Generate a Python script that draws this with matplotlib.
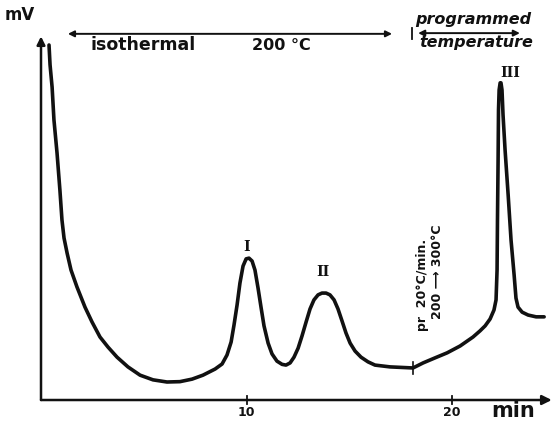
import matplotlib.pyplot as plt
import numpy as np

# chromatogram trace (time in min, signal in arbitrary mV units)
t_min = [0.39, 0.44, 0.54, 0.63, 0.78, 0.92, 1.02, 1.12, 1.27, 1.46, 1.75, 2.14,
         2.48, 2.87, 3.26, 3.70, 4.23, 4.82, 5.45, 6.13, 6.76, 7.35, 7.88, 8.47,
         8.81, 9.05, 9.25, 9.39, 9.54, 9.68, 9.83, 9.98, 10.12, 10.27, 10.41, 10.56,
         10.71, 10.85, 11.05, 11.24, 11.48, 11.73, 11.92, 12.12, 12.31, 12.51, 12.70,
         12.90, 13.09, 13.28, 13.48, 13.67, 13.87, 14.06, 14.26, 14.45, 14.65, 14.84,
         15.04, 15.28, 15.57, 15.91, 16.25, 16.98, 18.10, 18.59, 19.17, 19.76, 20.39,
         21.02, 21.36, 21.61, 21.85, 22.04, 22.14, 22.19, 22.21, 22.24, 22.26, 22.29,
         22.34, 22.38, 22.43, 22.48, 22.58, 22.73, 22.87, 23.02, 23.11, 23.21, 23.41,
         23.70, 24.09, 24.48]
signal = [98.6, 93.1, 86.9, 77.8, 68.6, 58.3, 50.0, 45.0, 40.8, 36.1, 31.4, 25.8,
          21.7, 17.5, 14.7, 11.9, 9.2, 6.9, 5.6, 5.0, 5.1, 5.8, 6.9, 8.6,
          10.0, 12.5, 16.1, 20.8, 26.4, 32.5, 37.2, 39.2, 39.4, 38.6, 36.1, 31.1,
          25.6, 20.6, 15.8, 12.8, 10.8, 9.9, 9.7, 10.3, 11.9, 14.4, 17.8,
          21.7, 25.3, 27.8, 29.2, 29.7, 29.7, 29.2, 27.8, 25.3, 21.9, 18.6,
          15.8, 13.6, 11.9, 10.6, 9.7, 9.2, 8.9, 10.3, 11.7, 13.1, 15.0,
          17.5, 19.2, 20.6, 22.5, 25.0, 27.8, 36.1, 50.0, 66.7, 80.6, 86.1,
          88.1, 88.1, 86.1, 79.2, 69.4, 56.9, 44.4, 34.7, 28.3, 25.8, 24.4,
          23.6, 23.1, 23.1]

peak_names = ["I", "II", "III"]
peak_t = [10.02, 13.72, 22.82]
peak_v = [42.5, 35.6, 90.8]

tick_pos = [10, 20]
tick_lab = ["10", "20"]

fig = plt.figure(figsize=(5.54, 4.21), dpi=100)
ax = fig.add_axes([0, 0, 1, 1])
ax.set_xlim(-1.995, 24.96)
ax.set_ylim(-5.83, 111.1)
ax.axis('off')

ink = '#111111'

# the trace
ax.plot(t_min, signal, color=ink, lw=2.6, solid_joinstyle='round', solid_capstyle='round')

# axes drawn by hand with arrows
ax.annotate('', xy=(24.85, 0), xytext=(0, 0), annotation_clip=False,
            arrowprops=dict(arrowstyle='-|>', lw=1.8, color=ink, mutation_scale=14,
                            shrinkA=0, shrinkB=0))
ax.annotate('', xy=(0, 101), xytext=(0, 0), annotation_clip=False,
            arrowprops=dict(arrowstyle='-|>', lw=1.8, color=ink, mutation_scale=12,
                            shrinkA=0, shrinkB=0))
for tp, tl in zip(tick_pos, tick_lab):
    ax.plot([tp, tp], [-1.2, 1.2], color=ink, lw=1.3)
    ax.text(tp, -3.4, tl, ha='center', va='center', fontsize=9, fontweight='bold', color=ink)
ax.text(22.97, -3.0, 'min', ha='center', va='center', fontsize=15, fontweight='bold', color=ink)
ax.text(-1.05, 106.9, 'mV', ha='center', va='center', fontsize=12, fontweight='bold', color=ink)

# small mark where the programme starts
ax.plot([18.1, 18.1], [7.3, 10.5], color=ink, lw=1.2)

# top annotations
ax.annotate('', xy=(1.31, 101.7), xytext=(17.08, 101.7),
            arrowprops=dict(arrowstyle='<|-|>', lw=1.4, color=ink, mutation_scale=9,
                            shrinkA=0, shrinkB=0))
ax.text(4.99, 98.6, 'isothermal', ha='center', va='center', fontsize=12.5,
        fontweight='bold', color=ink)
ax.text(11.68, 98.6, '200 °C', ha='center', va='center', fontsize=11.5,
        fontweight='bold', color=ink)
ax.plot([18.05, 18.05], [100.2, 103.2], color=ink, lw=1.3)
ax.annotate('', xy=(18.35, 101.9), xytext=(23.3, 101.9),
            arrowprops=dict(arrowstyle='<|-|>', lw=1.4, color=ink, mutation_scale=9,
                            shrinkA=0, shrinkB=0))
ax.text(21.02, 105.6, 'programmed', ha='center', va='center', fontsize=11.5,
        fontweight='bold', style='italic', color=ink)
ax.text(21.17, 99.2, 'temperature', ha='center', va='center', fontsize=11.5,
        fontweight='bold', style='italic', color=ink)

# programme conditions, written vertically
ax.text(18.54, 31.9, 'pr  20°C/min.', rotation=90, ha='center', va='center',
        fontsize=9, fontweight='bold', color=ink)
ax.text(19.27, 35.6, '200 ⟶ 300°C', rotation=90, ha='center', va='center',
        fontsize=9, fontweight='bold', color=ink)

# peak labels
for nm, pt, pv in zip(peak_names, peak_t, peak_v):
    ax.text(pt, pv, nm, ha='center', va='center', fontsize=10, fontweight='bold',
            family='DejaVu Serif', color=ink)

fig.savefig('out.png', dpi=100)
